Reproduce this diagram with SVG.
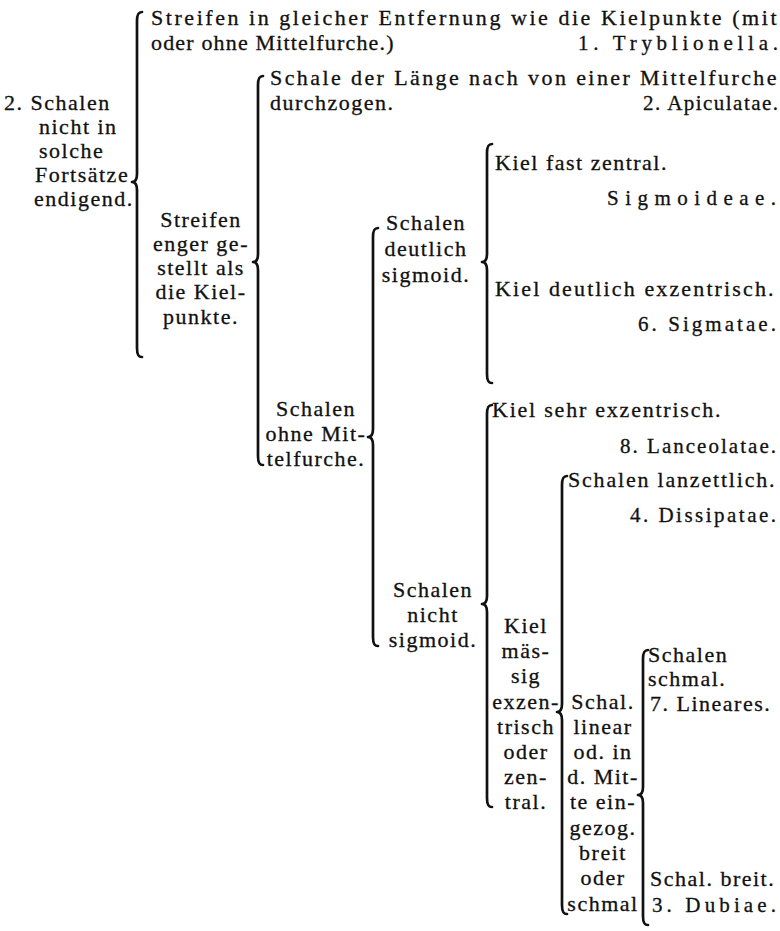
<svg xmlns="http://www.w3.org/2000/svg" width="780" height="931" viewBox="0 0 780 931">
<style>
text{font-family:"Liberation Serif","Times New Roman",serif;font-size:22px;letter-spacing:1.5px;fill:#111;stroke:#111;stroke-width:0.3}
.c{text-anchor:middle}
.nm{font-size:21px;letter-spacing:0}
.br{fill:none;stroke:#111;stroke-width:2.7;stroke-linecap:round;stroke-linejoin:round}
</style>
<rect width="780" height="931" fill="#fff"/>
<g id="connectors">
<path class="br" d="M142,12 C138,12 137,15 137,21 L137,174 C137,179 135,182 132,182 C135,182 137,185 137,190 L137,348 C137,354 138,357 142,357"/>
<path class="br" d="M263,76 C259,76 258,79 258,85 L258,254 C258,259 256,262 253,262 C256,262 258,265 258,270 L258,456 C258,462 259,465 263,465"/>
<path class="br" d="M378,228 C374,228 373,231 373,237 L373,429 C373,434 371,437 368,437 C371,437 373,440 373,445 L373,637 C373,643 374,646 378,646"/>
<path class="br" d="M492,144 C488,144 487,147 487,153 L487,254 C487,259 485,262 482,262 C485,262 487,265 487,270 L487,374 C487,380 488,383 492,383"/>
<path class="br" d="M492,405 C488,405 487,408 487,414 L487,596 C487,601 485,604 482,604 C485,604 487,607 487,612 L487,798 C487,804 488,807 492,807"/>
<path class="br" d="M567,476 C563,476 562,479 562,485 L562,704 C562,709 560,712 557,712 C560,712 562,715 562,720 L562,905 C562,911 563,914 567,914"/>
<path class="br" d="M648,650 C644,650 643,653 643,659 L643,787 C643,792 641,795 638,795 C641,795 643,798 643,803 L643,916 C643,922 644,925 648,925"/>
</g>
<g id="n1">
<text x="4" y="110">2. Schalen</text>
<text x="39" y="134">nicht in</text>
<text x="39" y="158">solche</text>
<text x="35" y="182">Fortsätze</text>
<text x="34" y="206">endigend.</text>
</g>
<g id="n2">
<text x="151" y="25" textLength="627" lengthAdjust="spacing">Streifen in gleicher Entfernung wie die Kielpunkte (mit</text>
<text x="151" y="50" textLength="244" lengthAdjust="spacing">oder ohne Mittelfurche.)</text>
<text class="nm" x="578" y="50" textLength="200" lengthAdjust="spacing">1. Tryblionella.</text>
</g>
<g id="n3">
<text class="c" x="201" y="227">Streifen</text>
<text class="c" x="201" y="251">enger ge-</text>
<text class="c" x="201" y="275">stellt als</text>
<text class="c" x="201" y="299">die Kiel-</text>
<text class="c" x="201" y="324">punkte.</text>
</g>
<g id="n4">
<text x="270" y="85" textLength="508" lengthAdjust="spacing">Schale der Länge nach von einer Mittelfurche</text>
<text x="270" y="110">durchzogen.</text>
<text class="nm" x="643" y="110" textLength="135" lengthAdjust="spacing">2. Apiculatae.</text>
</g>
<g id="n5">
<text class="c" x="316" y="416">Schalen</text>
<text class="c" x="316" y="441">ohne Mit-</text>
<text class="c" x="316" y="466">telfurche.</text>
</g>
<g id="n6">
<text class="c" x="426" y="230">Schalen</text>
<text class="c" x="426" y="256">deutlich</text>
<text class="c" x="426" y="282">sigmoid.</text>
</g>
<g id="n7">
<text x="495" y="170">Kiel fast zentral.</text>
<text class="nm" x="607" y="205" textLength="169" lengthAdjust="spacing">Sigmoideae.</text>
</g>
<g id="n8">
<text x="495" y="296" textLength="280" lengthAdjust="spacing">Kiel deutlich exzentrisch.</text>
<text class="nm" x="638" y="331" textLength="138" lengthAdjust="spacing">6. Sigmatae.</text>
</g>
<g id="n9">
<text class="c" x="433" y="597">Schalen</text>
<text class="c" x="433" y="622">nicht</text>
<text class="c" x="433" y="647">sigmoid.</text>
</g>
<g id="n10">
<text x="492" y="417" textLength="230" lengthAdjust="spacing">Kiel sehr exzentrisch.</text>
<text class="nm" x="620" y="453" textLength="156" lengthAdjust="spacing">8. Lanceolatae.</text>
</g>
<g id="n11">
<text class="c" x="526" y="633">Kiel</text>
<text class="c" x="526" y="658">mäs-</text>
<text class="c" x="526" y="683">sig</text>
<text class="c" x="526" y="709">exzen-</text>
<text class="c" x="526" y="734">trisch</text>
<text class="c" x="526" y="759">oder</text>
<text class="c" x="526" y="784">zen-</text>
<text class="c" x="526" y="809">tral.</text>
</g>
<g id="n12">
<text x="568" y="487" textLength="208" lengthAdjust="spacing">Schalen lanzettlich.</text>
<text class="nm" x="630" y="522" textLength="146" lengthAdjust="spacing">4. Dissipatae.</text>
</g>
<g id="n13">
<text class="c" x="603" y="709">Schal.</text>
<text class="c" x="603" y="734">linear</text>
<text class="c" x="603" y="759">od. in</text>
<text class="c" x="603" y="784">d. Mit-</text>
<text class="c" x="603" y="809">te ein-</text>
<text class="c" x="603" y="835">gezog.</text>
<text class="c" x="603" y="860">breit</text>
<text class="c" x="603" y="885">oder</text>
<text class="c" x="603" y="911">schmal</text>
</g>
<g id="n14">
<text x="648" y="662">Schalen</text>
<text x="648" y="686">schmal.</text>
<text x="650" y="711">7. Lineares.</text>
</g>
<g id="n15">
<text x="650" y="886">Schal. breit.</text>
<text class="nm" x="652" y="912" textLength="124" lengthAdjust="spacing">3. Dubiae.</text>
</g>
</svg>
